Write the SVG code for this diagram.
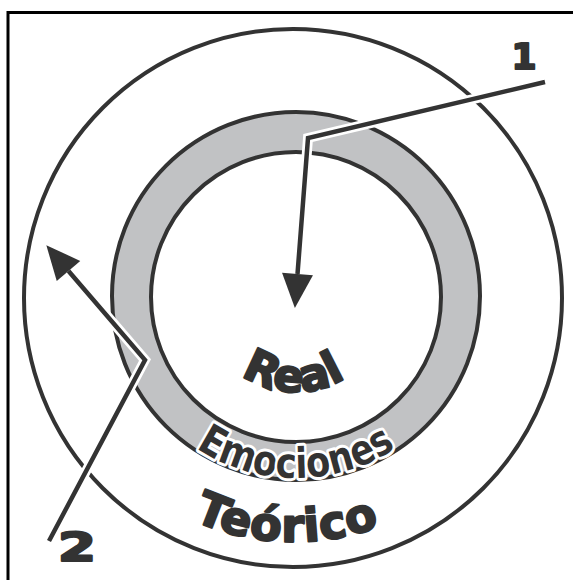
<svg xmlns="http://www.w3.org/2000/svg" width="573" height="580" viewBox="0 0 573 580">
<style>
.ring{fill:none;stroke:#333;stroke-width:4}
.halo{fill:none;stroke:#fff;stroke-width:10;stroke-linejoin:miter}
.lead{fill:none;stroke:#333;stroke-width:4.5;stroke-linejoin:miter}
.lbl{font-family:"DejaVu Sans",sans-serif;font-weight:bold;fill:#333;stroke:#333;stroke-width:2.2;stroke-linejoin:round}
.emo{font-family:"DejaVu Sans",sans-serif;font-weight:bold;fill:#333;stroke:#fff;stroke-width:6;stroke-linejoin:round;paint-order:stroke fill}
</style>
<defs>
<marker id="ah" markerUnits="userSpaceOnUse" markerWidth="36" markerHeight="32" refX="0" refY="15.5" orient="auto" overflow="visible">
<path d="M0,0 L34,15.5 L0,31 Z" fill="#333"/>
</marker>
<path id="pReal" d="M201,297 A95,95 0 0 0 391,297"/>
<path id="pEmo" d="M115,297 A181,181 0 0 0 477,297"/>
<path id="pTeo" d="M49,297 A245,245 0 0 0 539,297"/>
</defs>
<rect x="8" y="12.5" width="600" height="600" fill="#fff" stroke="#000" stroke-width="3"/>
<g id="teorico">
<circle cx="293" cy="298" r="269" class="ring" stroke-width="3.5"/>
<text class="lbl" font-size="46" letter-spacing="1"><textPath href="#pTeo" startOffset="49%" text-anchor="middle">Teórico</textPath></text>
</g>
<g id="emociones">
<path d="M296,112 a184,184 0 1 0 0.01,0 Z M296,152 a145,145 0 1 1 -0.01,0 Z" fill="#c1c2c4" fill-rule="evenodd"/>
<circle cx="296" cy="296" r="184" class="ring"/>
<circle cx="296" cy="297" r="145" class="ring"/>
<text class="emo" font-size="42"><textPath href="#pEmo" startOffset="50%" text-anchor="middle" textLength="212" lengthAdjust="spacingAndGlyphs">Emociones</textPath></text>
</g>
<g id="real">
<text class="lbl" font-size="45"><textPath href="#pReal" startOffset="49%" text-anchor="middle">Real</textPath></text>
</g>
<g id="connectors">
<polyline class="halo" points="545,82 308,138 297.5,274"/>
<polyline class="lead" points="545,82 308,138 297.5,274" marker-end="url(#ah)"/>
<polyline class="halo" points="49,541 145,360 68.5,271"/>
<polyline class="lead" points="49,541 145,360 68.5,271" marker-end="url(#ah)"/>
</g>
<g id="label1"><text class="lbl" font-size="36" x="524" y="69" text-anchor="middle">1</text></g>
<g id="label2"><text class="lbl" font-size="39" text-anchor="middle" transform="translate(77,561) scale(1.4,1)">2</text></g>
</svg>
